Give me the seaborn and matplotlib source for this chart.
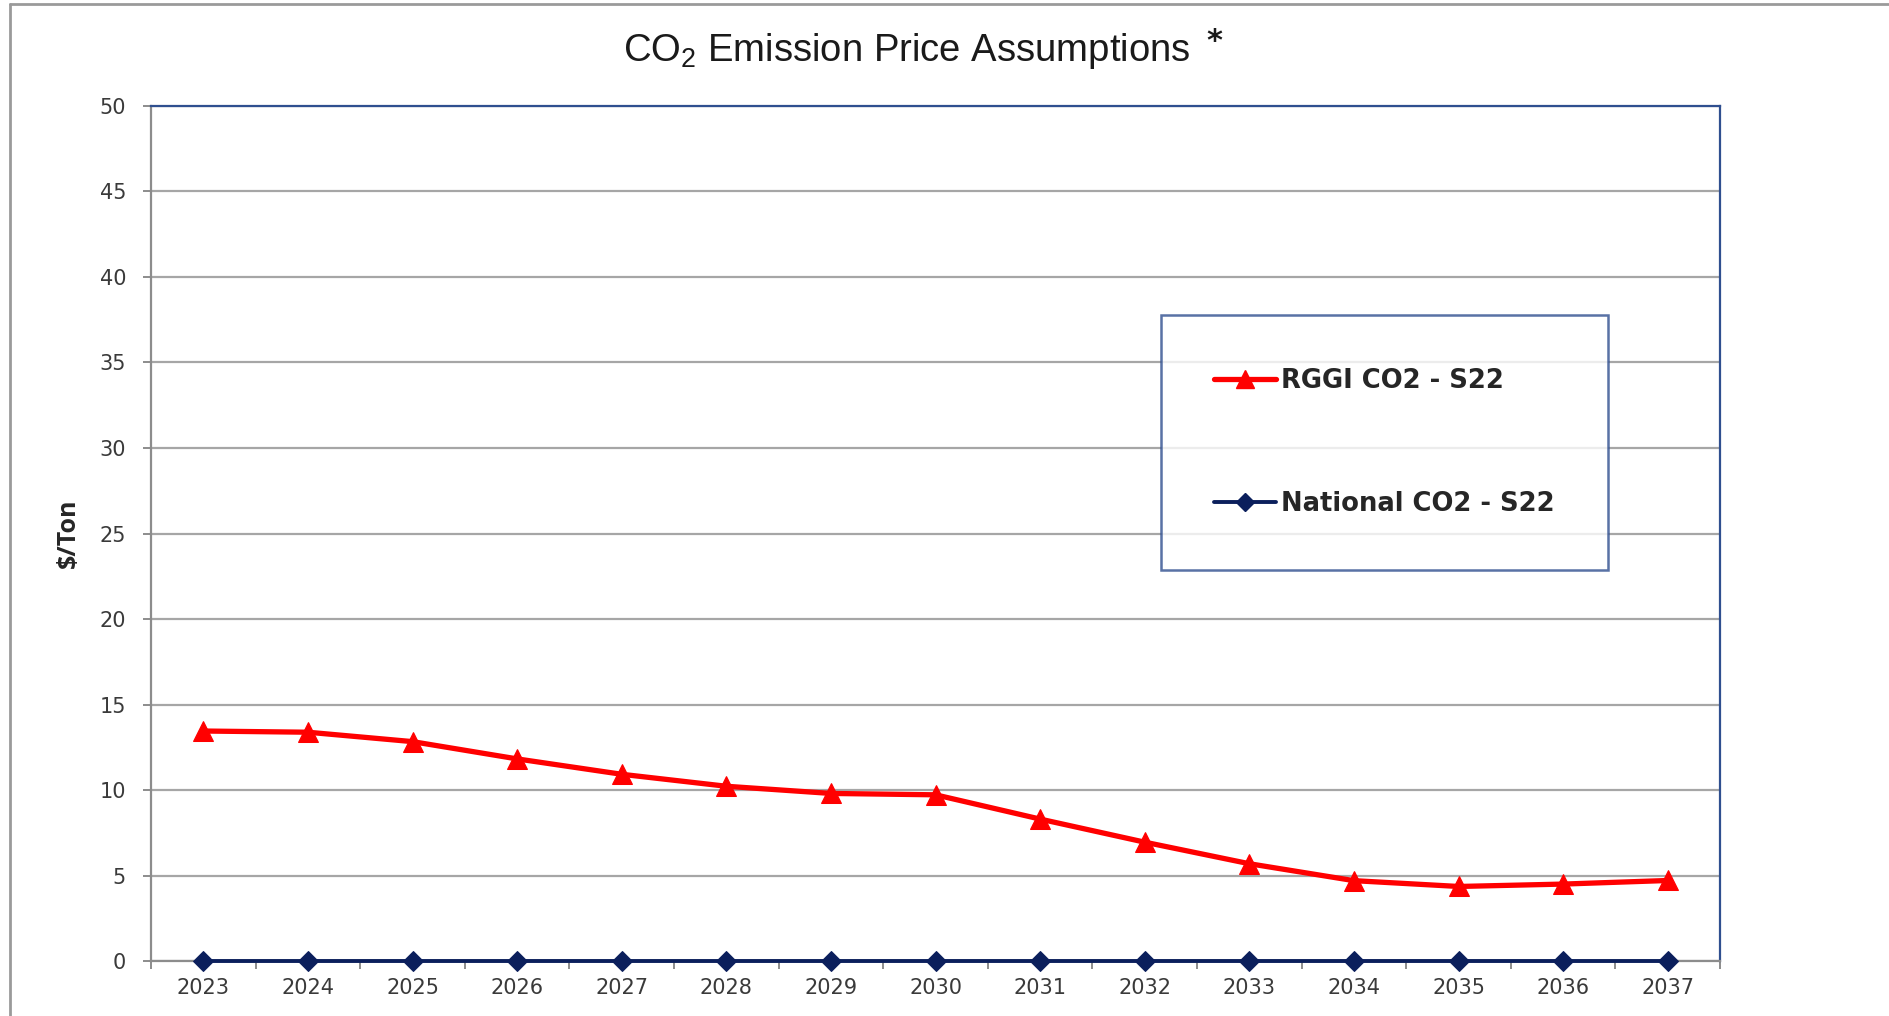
import matplotlib
matplotlib.use("Agg")
import matplotlib.pyplot as plt
import seaborn as sns
from matplotlib.lines import Line2D

years = ['2023', '2024', '2025', '2026', '2027', '2028', '2029', '2030',
         '2031', '2032', '2033', '2034', '2035', '2036', '2037']
rggi_co2 = [13.45, 13.38, 12.83, 11.82, 10.92, 10.22, 9.8, 9.72,
            8.3, 6.95, 5.69, 4.7, 4.36, 4.5, 4.71]
national_co2 = [0, 0, 0, 0, 0, 0, 0, 0, 0, 0, 0, 0, 0, 0, 0]
y_ticks = [0, 5, 10, 15, 20, 25, 30, 35, 40, 45, 50]

sns.set_style('white')
plt.rcParams['font.family'] = ['DejaVu Sans']
plt.rcParams['mathtext.fontset'] = 'custom'

fig = plt.figure(figsize=(18.9, 10.16), dpi=100)
ax = fig.add_axes([0.0799, 0.0541, 0.8302, 0.8416])

red = '#ff0000'
navy = '#0b1f5c'
grid_c = '#a6a6a6'

sns.lineplot(x=years, y=rggi_co2, ax=ax, color=red, linewidth=3.8, marker='^',
             markersize=14, markeredgecolor=red, sort=False, clip_on=False, zorder=4)
sns.lineplot(x=years, y=national_co2, ax=ax, color=navy, linewidth=2.8, marker='D',
             markersize=10, markeredgecolor=navy, sort=False, clip_on=False, zorder=5)

ax.set_xlim(-0.5, len(years) - 0.5)
ax.set_ylim(0, 50)
ax.set_yticks(y_ticks)
ax.set_yticklabels([str(v) for v in y_ticks])
ax.yaxis.grid(True, color=grid_c, linewidth=1.6)
ax.set_axisbelow(True)

# excel style: tick marks between the categories
ax.set_xticks(range(len(years)))
ax.set_xticklabels(years)
ax.set_xticks([i - 0.5 for i in range(len(years) + 1)], minor=True)
ax.tick_params(axis='x', which='major', length=0, pad=12, labelsize=15, labelcolor='#3a3a3a')
ax.tick_params(axis='x', which='minor', length=6, width=1.4, color='#8c8c8c', bottom=True)
ax.tick_params(axis='y', which='major', length=6, width=1.4, color='#8c8c8c', left=True,
               pad=12, labelsize=15, labelcolor='#3a3a3a')

for side in ['left', 'bottom']:
    ax.spines[side].set_color('#8c8c8c')
    ax.spines[side].set_linewidth(1.6)
for side in ['top', 'right']:
    ax.spines[side].set_color('#2f4f8f')
    ax.spines[side].set_linewidth(1.6)

ax.set_xlabel('')
ax.set_ylabel('$/Ton', fontsize=18, fontweight='bold', family=['Open Sans', 'DejaVu Sans'])
ax.yaxis.set_label_coords(-0.045, 0.5)

handles = [
    Line2D([], [], color=red, linewidth=3.8, marker='^', markersize=13, markeredgecolor=red),
    Line2D([], [], color=navy, linewidth=2.8, marker='D', markersize=9, markeredgecolor=navy),
]
leg = ax.legend(handles, ['RGGI CO2 - S22', 'National CO2 - S22'],
                loc='upper left', bbox_to_anchor=(1161 / 1890, 1 - 315 / 1016),
                bbox_transform=fig.transFigure, borderaxespad=0, frameon=True, fancybox=False,
                borderpad=2.05, labelspacing=3.75, handlelength=2.4, handletextpad=0.2,
                prop={'family': ['DejaVu Sans'], 'weight': 'bold', 'size': 18.6})
leg.get_frame().set_edgecolor('#2f4f8f')
leg.get_frame().set_linewidth(1.8)

fig.text(907 / 1890, 1 - 51 / 1016, 'CO$_\\mathregular{2}$ Emission Price Assumptions',
         ha='center', va='center', fontsize=27.5, color='#1a1a1a',
         family=['Liberation Sans', 'DejaVu Sans'])
fig.text(1214 / 1890, 1 - 41 / 1016, '*', ha='center', va='center', fontsize=22,
         fontweight='bold', color='#1a1a1a')

# outer frame from the screenshot
fig.add_artist(Line2D([10 / 1890, 10 / 1890], [0, 1 - 4 / 1016], transform=fig.transFigure,
                      color='#9a9a9a', linewidth=2))
fig.add_artist(Line2D([10 / 1890, 1], [1 - 4 / 1016, 1 - 4 / 1016], transform=fig.transFigure,
                      color='#9a9a9a', linewidth=2))

fig.savefig('out.png', dpi=100)
